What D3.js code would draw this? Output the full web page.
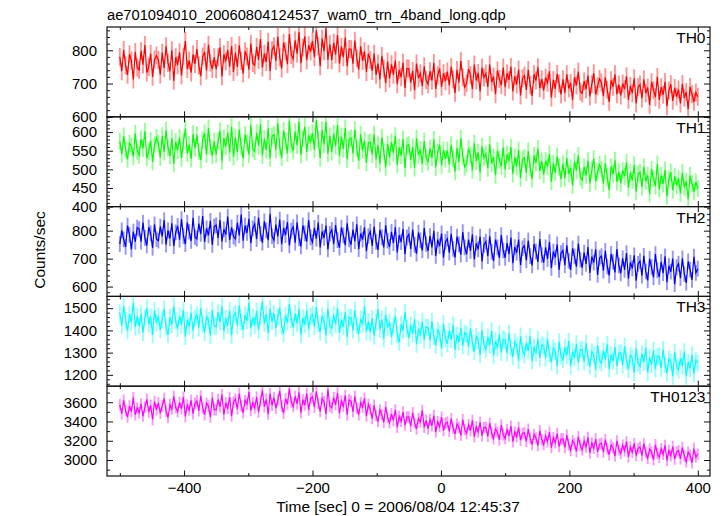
<!DOCTYPE html>
<html><head><meta charset="utf-8">
<script src="https://cdn.jsdelivr.net/npm/d3@7"></script>
<style>body{margin:0;background:#fff}svg{display:block}text{font-family:"Liberation Sans",Arial,Helvetica,sans-serif}</style>
</head><body><svg id="c" width="724" height="516"></svg>
<script>
// ---- data ----
const times = d3.range(-500, 401, 3);
const panelNames = ["TH0", "TH1", "TH2", "TH3", "TH0123"];
const th0 = [
780,737,801,754,726,788,769,712,795,748, 741,798,757,816,733,750,790,720,772,784,
771,727,793,747,812,762,737,800,708,779, 756,794,724,781,828,744,769,733,788,759,
804,754,722,781,795,739,817,763,744,779, 743,779,809,721,788,767,801,751,813,735,
793,750,815,768,730,797,781,742,820,762, 755,810,771,834,748,790,765,826,737,801,
812,768,841,779,745,823,797,758,849,786, 774,830,790,855,761,808,842,770,815,796,
828,779,860,812,752,835,797,866,771,818, 770,823,787,846,760,811,779,838,752,804,
803,760,829,776,742,812,768,797,735,790, 771,738,790,726,760,712,783,745,701,766,
715,758,726,770,698,741,719,763,687,745, 745,703,738,680,760,716,731,692,752,710,
698,737,709,762,684,725,745,690,731,707, 736,694,750,712,672,741,703,768,718,689,
701,744,726,683,757,709,732,676,748,718, 730,690,757,704,721,668,739,714,695,748,
689,731,711,750,676,722,697,742,664,716, 724,681,741,695,663,728,709,749,686,713,
679,718,702,737,658,711,684,729,700,667, 713,672,728,685,702,651,719,694,736,676,
670,707,683,724,661,698,731,667,692,714, 703,662,719,681,645,710,690,728,668,697,
664,700,683,722,651,693,671,716,640,689, 697,655,713,671,688,636,705,680,659,720,
651,689,666,705,632,679,698,648,687,661, 682,640,699,657,675,623,690,668,645,673,
660];
const th1 = [
575,541,589,553,527,570,562,534,596,549, 538,581,556,602,531,548,577,520,566,585,
570,532,590,547,605,558,536,583,515,574, 551,586,530,573,609,543,566,528,595,557,
592,548,525,579,597,540,611,560,537,575, 540,576,603,522,584,561,598,545,614,533,
586,546,607,561,529,593,572,540,618,555, 548,598,563,621,537,582,552,610,530,589,
593,552,624,561,531,604,577,543,630,566, 550,601,565,628,539,583,614,546,592,572,
598,553,632,581,530,606,567,627,542,589, 547,596,562,619,536,588,555,611,527,580,
584,543,607,557,523,594,550,578,518,571, 573,540,594,527,565,515,586,549,506,568,
532,573,544,590,512,559,537,581,503,563, 566,525,560,504,583,538,553,514,576,533,
519,556,531,580,505,546,566,511,552,528, 551,513,566,529,494,557,520,583,535,506,
515,556,539,498,570,522,546,491,562,531, 541,503,567,516,533,484,550,526,508,559,
500,540,522,560,488,533,507,552,476,527, 531,491,549,504,474,537,517,556,496,522,
486,523,508,541,467,516,491,534,506,474, 515,476,530,488,504,457,521,497,537,480,
471,506,484,523,462,498,529,468,492,513, 500,462,516,479,445,507,487,524,466,494,
463,497,481,518,450,491,470,512,440,487, 492,453,507,468,484,434,500,475,455,514,
447,483,461,498,428,474,492,444,481,457, 475,436,491,452,468,420,483,461,440,466,
449];
const th2 = [
752,801,769,742,818,785,733,797,760,811, 806,761,829,774,747,812,790,738,823,770,
764,815,779,838,750,801,772,826,745,794, 817,768,841,781,752,829,796,763,846,777,
771,825,788,852,760,808,783,835,749,815, 820,774,838,761,805,786,850,766,812,779,
771,829,783,858,764,818,792,842,755,808, 824,770,847,789,757,833,801,766,860,780,
766,822,779,840,752,809,784,831,747,800, 813,757,830,772,744,819,790,761,838,776,
759,810,771,829,740,797,774,818,733,789, 803,752,820,766,739,811,783,748,826,769,
750,804,762,823,734,790,768,812,727,781, 797,745,815,760,731,803,776,740,819,764,
742,796,755,812,722,784,759,806,716,775, 787,735,804,749,718,793,765,729,809,752,
728,781,740,799,710,768,745,790,703,760, 771,721,789,735,704,779,751,714,795,740,
716,768,728,787,697,755,733,779,690,749, 761,709,780,724,692,768,740,703,784,729,
703,756,716,775,684,741,721,768,677,737, 746,694,765,709,676,753,725,688,770,713,
686,740,699,759,667,725,704,751,660,720, 729,677,748,692,660,737,708,671,754,696,
668,722,681,741,649,707,686,733,642,702, 709,657,728,672,640,717,688,651,734,676,
647,701,660,720,628,686,665,712,621,681, 691,639,710,654,622,699,670,633,716,658,
635,689,648,708,616,674,653,700,609,669, 682,630,701,645,613,690,661,624,707,649,
664];
const th3 = [
1480,1421,1510,1446,1398,1472,1437,1525,1415,1463, 1418,1475,1390,1456,1501,1427,1462,1380,1489,1433,
1465,1402,1448,1497,1415,1380,1458,1426,1509,1441, 1408,1466,1425,1491,1372,1447,1418,1480,1399,1455,
1471,1412,1501,1429,1390,1462,1445,1376,1493,1420, 1416,1482,1437,1508,1395,1454,1422,1489,1378,1466,
1479,1420,1512,1438,1401,1470,1443,1525,1410,1458, 1423,1488,1402,1465,1530,1431,1474,1389,1497,1440,
1476,1410,1459,1503,1418,1385,1467,1436,1519,1449, 1414,1477,1432,1496,1380,1456,1425,1489,1405,1463,
1473,1416,1505,1430,1392,1466,1444,1378,1498,1421, 1409,1471,1428,1500,1388,1447,1417,1482,1369,1458,
1459,1400,1491,1421,1385,1452,1426,1508,1393,1440, 1392,1455,1375,1437,1496,1404,1449,1362,1470,1413,
1437,1371,1418,1465,1380,1347,1428,1399,1482,1410, 1365,1425,1384,1450,1338,1408,1377,1441,1357,1416,
1412,1355,1441,1372,1333,1401,1385,1318,1430,1364, 1340,1398,1359,1425,1312,1379,1348,1412,1330,1389,
1383,1325,1411,1344,1305,1373,1357,1290,1402,1336, 1314,1371,1333,1399,1286,1352,1321,1384,1301,1360,
1356,1298,1387,1320,1281,1349,1331,1264,1375,1309, 1289,1343,1308,1374,1262,1326,1297,1360,1276,1335,
1331,1275,1362,1294,1257,1321,1306,1240,1349,1285, 1268,1324,1287,1352,1240,1305,1276,1340,1255,1313,
1314,1258,1343,1277,1238,1304,1290,1224,1333,1266, 1253,1309,1270,1337,1226,1291,1261,1325,1240,1298,
1300,1244,1330,1263,1224,1289,1276,1209,1319,1253, 1238,1295,1257,1322,1211,1278,1246,1310,1226,1284,
1284,1229,1314,1247,1208,1273,1260,1194,1302,1236, 1222,1276,1239,1305,1193,1258,1228,1290,1205,1266,
1252];
const th0123 = [
3575,3480,3620,3512,3445,3560,3502,3648,3470,3541, 3490,3583,3455,3547,3630,3498,3568,3420,3609,3520,
3596,3485,3560,3640,3507,3441,3573,3528,3661,3545, 3502,3598,3530,3652,3452,3571,3519,3620,3480,3589,
3612,3510,3665,3541,3468,3590,3560,3445,3648,3522, 3520,3628,3551,3679,3470,3593,3537,3650,3455,3602,
3633,3528,3690,3562,3490,3618,3581,3705,3512,3596, 3540,3652,3498,3610,3722,3553,3630,3476,3689,3568,
3648,3537,3617,3718,3560,3485,3636,3580,3741,3602, 3551,3660,3582,3701,3490,3627,3569,3690,3520,3640,
3655,3548,3712,3589,3502,3641,3605,3478,3730,3560, 3541,3648,3572,3695,3486,3612,3558,3671,3470,3625,
3610,3502,3660,3540,3470,3596,3548,3640,3455,3578, 3525,3430,3570,3462,3398,3519,3471,3390,3552,3440,
3385,3478,3410,3520,3340,3452,3401,3498,3362,3446, 3447,3350,3491,3386,3322,3430,3395,3515,3338,3412,
3325,3420,3356,3462,3290,3398,3347,3445,3305,3381, 3392,3298,3430,3331,3268,3372,3340,3256,3418,3315,
3275,3368,3302,3411,3240,3345,3290,3390,3252,3336, 3340,3245,3382,3280,3221,3322,3290,3208,3365,3262,
3222,3315,3250,3352,3190,3291,3241,3338,3205,3277, 3283,3192,3321,3225,3160,3265,3230,3150,3305,3210,
3160,3252,3190,3290,3128,3232,3178,3275,3140,3218, 3220,3130,3258,3161,3099,3201,3170,3088,3242,3150,
3105,3196,3135,3235,3075,3177,3122,3218,3085,3163, 3175,3082,3212,3118,3055,3156,3125,3040,3198,3105,
3066,3155,3095,3191,3032,3136,3080,3172,3045,3121, 3135,3046,3170,3078,3018,3115,3085,3002,3158,3066,
3028,3118,3058,3152,2995,3099,3044,3140,3010,3085, 3098,3012,3131,3040,2980,3082,3051,2970,3119,3030,
3060];
const seriesValues = [th0, th1, th2, th3, th0123];
const seriesErrors = [27, 23, 28, 38, 59];
const yDomains = [[600, 870], [400, 641], [565, 886], [1149, 1553], [2834, 3766]];
const yTickLabels = [[600, 700, 800], [400, 450, 500, 550, 600], [600, 700, 800], [1200, 1300, 1400, 1500], [3000, 3200, 3400, 3600]];
const yMinorSteps = [20, 10, 20, 20, 100];
const xTickLabels = [-400, -200, 0, 200, 400];
const xMinorTicks = [-500, -300, -100, 100, 300];
const colors = ["#ff0000", "#00ff00", "#0000ff", "#00ffff", "#ff00ff"];
const titleText = "ae701094010_20060804124537_wam0_trn_4band_long.qdp";
const xTitle = "Time [sec] 0 = 2006/08/04 12:45:37";
const yTitle = "Counts/sec";

// ---- layout ----
const L = 107, R = 710, T = 27, B = 476;
const ph = (B - T) / 5;
const svg = d3.select("#c");
const x = d3.scaleLinear().domain([-520, 419]).range([L, R]);
const defs = svg.append("defs");

seriesValues.forEach((vals, i) => {
  const top = T + i * ph, bot = top + ph;
  const y = d3.scaleLinear().domain(yDomains[i]).range([bot, top]);
  const cid = "clip" + i;
  defs.append("clipPath").attr("id", cid).append("rect")
    .attr("x", L).attr("y", top).attr("width", R - L).attr("height", ph);
  const g = svg.append("g").attr("clip-path", `url(#${cid})`);
  const err = seriesErrors[i];
  g.selectAll("line.e").data(vals).join("line").attr("class", "e")
    .attr("x1", (d, j) => x(times[j])).attr("x2", (d, j) => x(times[j]))
    .attr("y1", d => y(d - err)).attr("y2", d => y(d + err))
    .attr("stroke", colors[i]).attr("stroke-opacity", 0.42).attr("stroke-width", 1.9);
  const line = d3.line().x((d, j) => x(times[j])).y(d => y(d));
  g.append("path").datum(vals).attr("d", line)
    .attr("fill", "none").attr("stroke", colors[i]).attr("stroke-width", 1.2);

  // y axes
  const d0 = yDomains[i][0], d1 = yDomains[i][1], st = yMinorSteps[i];
  const minors = d3.range(Math.ceil(d0 / st) * st, d1 + 0.001, st).filter(v => !yTickLabels[i].includes(v));
  const yl = svg.append("g").attr("transform", `translate(${L},0)`)
    .call(d3.axisLeft(y).tickValues(yTickLabels[i]).tickSize(-6).tickPadding(10).tickFormat(d3.format("d")));
  yl.select(".domain").remove();
  yl.selectAll("text").attr("font-size", 15).attr("font-family", '"Liberation Sans",Arial,sans-serif').attr("fill", "#000");
  svg.append("g").attr("transform", `translate(${L},0)`)
    .call(d3.axisLeft(y).tickValues(minors).tickSize(-3).tickFormat("")).select(".domain").remove();
  const yr = svg.append("g").attr("transform", `translate(${R},0)`)
    .call(d3.axisRight(y).tickValues(yTickLabels[i]).tickSize(-6).tickFormat(""));
  yr.select(".domain").remove();
  svg.append("g").attr("transform", `translate(${R},0)`)
    .call(d3.axisRight(y).tickValues(minors).tickSize(-3).tickFormat("")).select(".domain").remove();

  // x ticks top/bottom
  const xb = svg.append("g").attr("transform", `translate(0,${bot})`)
    .call(d3.axisBottom(x).tickValues(xTickLabels).tickSize(-5.5).tickPadding(6)
      .tickFormat(i === 4 ? d3.format("d") : ""));
  xb.select(".domain").remove();
  xb.selectAll("text").attr("font-size", 15).attr("font-family", '"Liberation Sans",Arial,sans-serif').attr("fill", "#000");
  svg.append("g").attr("transform", `translate(0,${bot})`)
    .call(d3.axisBottom(x).tickValues(xMinorTicks).tickSize(-3).tickFormat("")).select(".domain").remove();
  svg.append("g").attr("transform", `translate(0,${top})`)
    .call(d3.axisTop(x).tickValues(xTickLabels).tickSize(-5.5).tickFormat("")).select(".domain").remove();
  svg.append("g").attr("transform", `translate(0,${top})`)
    .call(d3.axisTop(x).tickValues(xMinorTicks).tickSize(-3).tickFormat("")).select(".domain").remove();

  svg.append("rect").attr("x", L).attr("y", top).attr("width", R - L).attr("height", ph)
    .attr("fill", "none").attr("stroke", "#111").attr("stroke-width", 1.2);

  svg.append("text").attr("x", 705.5).attr("y", top + 16).attr("text-anchor", "end")
    .attr("font-size", 15.5).text(panelNames[i]);
});
svg.selectAll(".tick line").attr("stroke", "#111").attr("stroke-width", 1);

svg.append("text").attr("x", L).attr("y", 20).attr("font-size", 14.7).text(titleText);
svg.append("text").attr("x", 398).attr("y", 512).attr("text-anchor", "middle").attr("font-size", 15.5).text(xTitle);
svg.append("text").attr("transform", "translate(45,250) rotate(-90)").attr("text-anchor", "middle")
  .attr("font-size", 15.5).text(yTitle);
</script></body></html>
